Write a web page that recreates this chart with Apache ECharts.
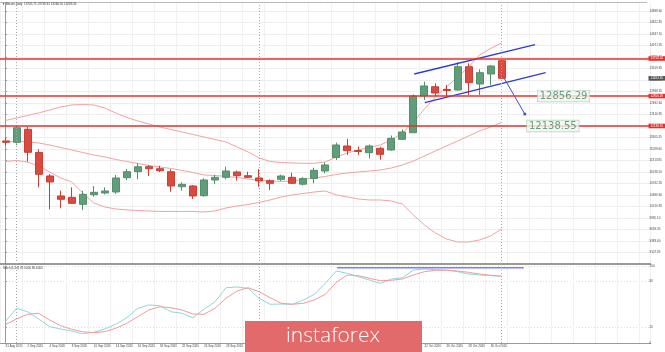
<!DOCTYPE html>
<html>
<head>
<meta charset="utf-8">
<script src="https://cdn.jsdelivr.net/npm/echarts@6.0.0/dist/echarts.min.js"></script>
<style>
html, body { margin: 0; padding: 0; background: #fff; }
#chart { width: 665px; height: 352px; }
</style>
</head>
<body>
<div id="chart"></div>
<script>
// daily bars, weekdays only
var dates = ['31 Aug 2020', '1 Sep 2020', '2 Sep 2020', '3 Sep 2020', '4 Sep 2020', '7 Sep 2020', '8 Sep 2020',
    '9 Sep 2020', '10 Sep 2020', '11 Sep 2020', '14 Sep 2020', '15 Sep 2020', '16 Sep 2020', '17 Sep 2020',
    '18 Sep 2020', '21 Sep 2020', '22 Sep 2020', '23 Sep 2020', '24 Sep 2020', '25 Sep 2020', '28 Sep 2020',
    '29 Sep 2020', '30 Sep 2020', '1 Oct 2020', '2 Oct 2020', '5 Oct 2020', '6 Oct 2020', '7 Oct 2020',
    '8 Oct 2020', '9 Oct 2020', '12 Oct 2020', '13 Oct 2020', '14 Oct 2020', '15 Oct 2020', '16 Oct 2020',
    '19 Oct 2020', '20 Oct 2020', '21 Oct 2020', '22 Oct 2020', '23 Oct 2020', '26 Oct 2020', '27 Oct 2020',
    '28 Oct 2020', '29 Oct 2020', '30 Oct 2020', '2 Nov 2020'];
// empty space to the right of the last bar
var futureDates = ['3 Nov 2020', '4 Nov 2020', '5 Nov 2020', '6 Nov 2020', '9 Nov 2020', '10 Nov 2020',
    '11 Nov 2020', '12 Nov 2020', '13 Nov 2020', '16 Nov 2020', '17 Nov 2020', '18 Nov 2020', '19 Nov 2020'];

var opens = [11779, 11747, 12059, 11503, 10939, 10459, 10427, 10259, 10490, 10531, 10555, 10898, 11042, 11162,
    11114, 11042, 10682, 10699, 10466, 10843, 10907, 11035, 10946, 10891, 10826, 10859, 10907, 10742, 10879,
    11059, 11383, 11659, 11551, 11498, 11603, 11563, 11819, 11978, 12859, 13082, 13015, 13003, 13562, 13147,
    13387, 13705.75];
var closes = [11747, 12098, 11507, 10979, 10795, 10379, 10283, 10499, 10547, 10579, 10891, 11042, 11162, 11114,
    11066, 10699, 10739, 10459, 10843, 10907, 11059, 10946, 10907, 10819, 10763, 10939, 10763, 10879, 11075,
    11203, 11683, 11546, 11527, 11659, 11459, 11843, 11995, 12859, 13099, 12931, 12991, 13562, 13178, 13418,
    13579, 13283.35];
var lows = [11683, 11683, 11282, 10667, 10139, 10163, 10267, 10123, 10442, 10495, 10507, 10843, 10859, 10939,
    11035, 10562, 10586, 10387, 10442, 10747, 10859, 10826, 10891, 10682, 10603, 10819, 10747, 10711, 10763,
    11003, 11323, 11443, 11443, 11359, 11330, 11546, 11803, 11971, 12763, 12859, 12835, 12986, 12883, 12883,
    13123, 13266.55];
var highs = [11851, 12163, 12122, 11579, 10987, 10586, 10667, 10586, 10699, 10667, 10963, 11107, 11243, 11203,
    11186, 11099, 10787, 10723, 10883, 10963, 11162, 11066, 11042, 11099, 10859, 10970, 11018, 10907, 11138,
    11258, 11738, 11831, 11642, 11695, 11642, 11911, 12055, 12895, 13202, 13163, 13123, 13667, 13643, 13499,
    13603, 13739.35];

// bollinger bands
var bbUpper = [12271, 12331, 12391, 12451, 12523, 12595, 12643, 12655, 12643, 12571, 12451, 12343, 12259, 12187,
    12115, 12055, 11995, 11935, 11875, 11815, 11755, 11635, 11515, 11371, 11287, 11263, 11251, 11243, 11243,
    11275, 11395, 11491, 11563, 11623, 11683, 11803, 11971, 12235, 12547, 12835, 13075, 13315, 13555, 13843,
    13999, 14131];
var bbMiddle = [11767, 11767, 11755, 11731, 11683, 11623, 11563, 11503, 11443, 11395, 11335, 11287, 11239, 11191,
    11155, 11119, 11071, 11023, 10963, 10951, 10927, 10903, 10867, 10831, 10819, 10807, 10819, 10855, 10891,
    10927, 10975, 11011, 11035, 11059, 11083, 11131, 11203, 11299, 11419, 11539, 11659, 11779, 11899, 12019,
    12115, 12223];
var bbLower = [11287, 11311, 11275, 11179, 11035, 10891, 10795, 10531, 10291, 10195, 10147, 10123, 10111, 10099,
    10087, 10087, 10087, 10087, 10075, 10099, 10171, 10219, 10255, 10303, 10363, 10435, 10483, 10519, 10555,
    10579, 10483, 10435, 10387, 10363, 10363, 10339, 10267, 10003, 9763, 9571, 9427, 9355, 9355, 9403,
    9499, 9667];

// stochastic oscillator
var stochMain = [27.9, 45.1, 40.6, 31.2, 21.2, 18.2, 15.6, 12.1, 13.9, 18.2, 24.3, 32.9, 45.1, 49.4, 48.4, 40.6,
    38.6, 32.9, 43.8, 53.6, 71.8, 72.7, 71.0, 58.1, 50.3, 50.6, 50.3, 55.8, 63.2, 77.5, 93.5, 90.5, 86.1, 81.8,
    77.5, 83.1, 84.8, 94.8, 96.1, 95.2, 94.8, 92.6, 89.6, 88.3, 87.4, 87.0];
var stochSignal = [24.0, 31.2, 37.3, 38.6, 29.9, 22.5, 17.8, 14.7, 13.4, 14.7, 19.1, 25.6, 34.2, 42.9, 47.1, 45.8,
    42.9, 37.7, 37.3, 45.1, 58.1, 67.5, 71.8, 66.6, 58.8, 51.6, 50.3, 51.6, 55.8, 63.2, 78.8, 88.3, 87.4, 84.0,
    80.9, 81.4, 83.1, 88.3, 92.6, 94.4, 94.4, 93.5, 91.8, 89.6, 87.9, 86.6];

// axis labels
var priceTicks = [14898.60, 14622.85, 14347.10, 14071.35, 13795.60, 13519.85, 13244.10, 12968.35, 12692.60,
    12416.85, 12141.10, 11865.35, 11589.60, 11313.85, 11038.10, 10762.35, 10486.60, 10210.85, 9935.10,
    9659.35, 9383.60, 9107.85];
var stochTicks = [0, 20, 80, 100];

// drawings (bar index, price)
var levels = [13758.55, 12856.29, 12138.55];
var monthStarts = [1, 23, 45];
var channelUpper = [[37.07, 13386.55], [48.03, 14089.75]];
var channelLower = [[38.03, 12697.75], [48.99, 13417.75]];
var arrowPath = [[45.23, 13283.35], [47.1, 12426.55]];
var targets = [[48.27, 12856.29], [47.3, 12138.55]];
var stochTop = [[30.07, 97.8], [47.0, 97.8]];

var chart = echarts.init(document.getElementById('chart'));
var cats = dates.concat(futureDates);
var last = dates.length - 1;
var ohlc = opens.map(function (o, i) {
    return [o, closes[i], lows[i], highs[i]];
});
var fmt = function (v) {
    return Number(v).toFixed(2);
};
var FONT = 'Liberation Sans';
var gridL = -4.35, gridR = 14.45;

var sepLines = monthStarts.map(function (i) {
    return {xAxis: i, lineStyle: {color: '#aaaaaa', type: [1, 2], width: 1}, label: {show: false}};
});
var levelLines = levels.map(function (v) {
    return {
        yAxis: v,
        lineStyle: {color: '#e8302c', width: 1.6, type: 'solid'},
        label: {
            show: true, position: 'end', distance: -2, formatter: fmt(v),
            backgroundColor: '#e8302c', color: '#fff', fontSize: 3, fontFamily: FONT, padding: [0.8, 2]
        }
    };
});
var bidLine = {
    yAxis: closes[last],
    lineStyle: {color: 'rgba(0,0,0,0)', width: 0},
    label: {
        show: true, position: 'end', distance: -2, formatter: fmt(closes[last]),
        backgroundColor: '#555555', color: '#fff', fontSize: 3, fontFamily: FONT, padding: [0.8, 2]
    }
};

var option = {
    animation: false,
    backgroundColor: '#ffffff',
    grid: [
        {left: gridL, right: gridR, top: 3, height: 261},
        {left: gridL, right: gridR, top: 266, height: 77}
    ],
    xAxis: [
        {
            type: 'category', gridIndex: 0, data: cats,
            axisLine: {lineStyle: {color: '#7a7a7a', width: 1.6}},
            axisTick: {show: false}, axisLabel: {show: false},
            splitLine: {show: true, interval: 1, lineStyle: {color: '#f1f1f1'}}
        },
        {type: 'value', gridIndex: 0, min: -0.5, max: cats.length - 0.5, show: false},
        {
            type: 'category', gridIndex: 1, data: cats,
            axisLine: {lineStyle: {color: '#9a9a9a', width: 1}},
            axisTick: {show: false},
            axisLabel: {
                interval: 1, align: 'left', fontSize: 3, color: '#444', margin: 2, fontFamily: FONT,
                formatter: function (v, i) {
                    return i <= last ? v : '';
                }
            },
            splitLine: {show: true, interval: 1, lineStyle: {color: '#f1f1f1'}}
        },
        {type: 'value', gridIndex: 1, min: -0.5, max: cats.length - 0.5, show: false}
    ],
    yAxis: [
        {
            type: 'value', gridIndex: 0, position: 'right', offset: -3.5,
            min: 8826.55, max: 15090.55,
            axisLine: {show: true, lineStyle: {color: '#9a9a9a'}},
            axisTick: {show: true, length: 1.5, customValues: priceTicks, lineStyle: {color: '#9a9a9a'}},
            axisLabel: {customValues: priceTicks, formatter: fmt, fontSize: 3, color: '#444', margin: 2.5, fontFamily: FONT},
            splitLine: {show: true, lineStyle: {color: '#eeeeee'}}
        },
        {
            type: 'value', gridIndex: 1, position: 'right', offset: -3.5,
            min: 0, max: 100,
            axisLine: {show: true, lineStyle: {color: '#9a9a9a'}},
            axisTick: {show: true, length: 1.5, customValues: stochTicks, lineStyle: {color: '#9a9a9a'}},
            axisLabel: {customValues: stochTicks, fontSize: 3, color: '#444', margin: 2.5, fontFamily: FONT},
            splitLine: {show: true, lineStyle: {color: '#dddddd', type: [1, 2]}}
        }
    ],
    series: [
        {
            name: 'upper', type: 'line', xAxisIndex: 0, yAxisIndex: 0, data: bbUpper, symbol: 'none', z: 2,
            lineStyle: {color: '#f3a2a2', width: 1}
        },
        {
            name: 'middle', type: 'line', xAxisIndex: 0, yAxisIndex: 0, data: bbMiddle, symbol: 'none', z: 2,
            lineStyle: {color: '#f3a2a2', width: 1}
        },
        {
            name: 'lower', type: 'line', xAxisIndex: 0, yAxisIndex: 0, data: bbLower, symbol: 'none', z: 2,
            lineStyle: {color: '#f3a2a2', width: 1}
        },
        {
            name: 'BTC', type: 'candlestick', xAxisIndex: 0, yAxisIndex: 0, data: ohlc, barWidth: 7.5, z: 3,
            itemStyle: {
                color: '#609e79', color0: '#da4a3e',
                borderColor: '#528f6b', borderColor0: '#c93f34', borderWidth: 1
            },
            markLine: {
                symbol: ['none', 'none'], silent: true, animation: false,
                data: sepLines.concat(levelLines, [bidLine])
            }
        },
        {
            name: 'channel up', type: 'line', xAxisIndex: 1, yAxisIndex: 0, data: channelUpper, symbol: 'none', z: 4,
            lineStyle: {color: '#2c3bd6', width: 1.3}
        },
        {
            name: 'channel low', type: 'line', xAxisIndex: 1, yAxisIndex: 0, data: channelLower, symbol: 'none', z: 4,
            lineStyle: {color: '#2c3bd6', width: 1.3}
        },
        {
            name: 'arrow', type: 'line', xAxisIndex: 1, yAxisIndex: 0, z: 4, showSymbol: true,
            data: [
                {value: arrowPath[0], symbol: 'none'},
                {value: arrowPath[1], symbol: 'circle', symbolSize: 3}
            ],
            itemStyle: {color: '#3a4fd9'},
            lineStyle: {color: '#3a4fd9', width: 1}
        },
        {
            name: 'targets', type: 'scatter', xAxisIndex: 1, yAxisIndex: 0, data: targets, symbolSize: 0, z: 6,
            label: {
                show: true, position: 'right', distance: 0,
                formatter: function (p) {
                    return fmt(p.value[1]);
                },
                fontSize: 10, fontFamily: 'DejaVu Sans', color: '#46885b',
                backgroundColor: '#f2f8f2', borderColor: '#a9cdb3', borderWidth: 0.7, padding: [1, 2, 0, 2]
            }
        },
        {
            name: 'main', type: 'line', xAxisIndex: 2, yAxisIndex: 1, data: stochMain, symbol: 'none',
            lineStyle: {color: '#8fd8d8', width: 1},
            markLine: {
                symbol: ['none', 'none'], silent: true, animation: false,
                data: monthStarts.map(function (i) {
                    return {xAxis: i, lineStyle: {color: '#aaaaaa', type: [1, 2], width: 1}, label: {show: false}};
                })
            }
        },
        {
            name: 'signal', type: 'line', xAxisIndex: 2, yAxisIndex: 1, data: stochSignal, symbol: 'none',
            lineStyle: {color: '#f29a9a', width: 1}
        },
        {
            name: 'stoch top', type: 'line', xAxisIndex: 3, yAxisIndex: 1, data: stochTop, symbol: 'none',
            lineStyle: {color: '#7f7ff2', width: 1.6}
        }
    ],
    graphic: [
        {
            type: 'line', shape: {x1: 0, y1: 2.5, x2: 647, y2: 2.5},
            style: {stroke: '#b8b8b8', lineWidth: 1}
        },
        {
            type: 'text', x: 2, y: 4, z: 10,
            style: {
                text: '\u25BC Bitcoin,Daily  ' + [opens[last], highs[last], lows[last], closes[last]].map(fmt).join(' '),
                fontSize: 3, fontFamily: FONT, fill: '#333', verticalAlign: 'middle'
            }
        },
        {
            type: 'text', x: 3, y: 268, z: 10,
            style: {
                text: 'Stoch(5,3,3) ' + stochMain[last].toFixed(4) + ' ' + stochSignal[last].toFixed(4),
                fontSize: 3, fontFamily: FONT, fill: '#333', verticalAlign: 'middle'
            }
        },
        {
            type: 'rect', zlevel: 1, z: 100,
            shape: {x: 245, y: 321, width: 177, height: 31},
            style: {fill: '#e36a6a'}
        },
        {
            type: 'text', zlevel: 1, z: 101, x: 333, y: 336,
            style: {
                text: 'instaforex', fill: '#ffffff', fontSize: 21, fontFamily: 'Open Sans', fontWeight: 300,
                align: 'center', verticalAlign: 'middle'
            }
        }
    ]
};
chart.setOption(option);
</script>
</body>
</html>
